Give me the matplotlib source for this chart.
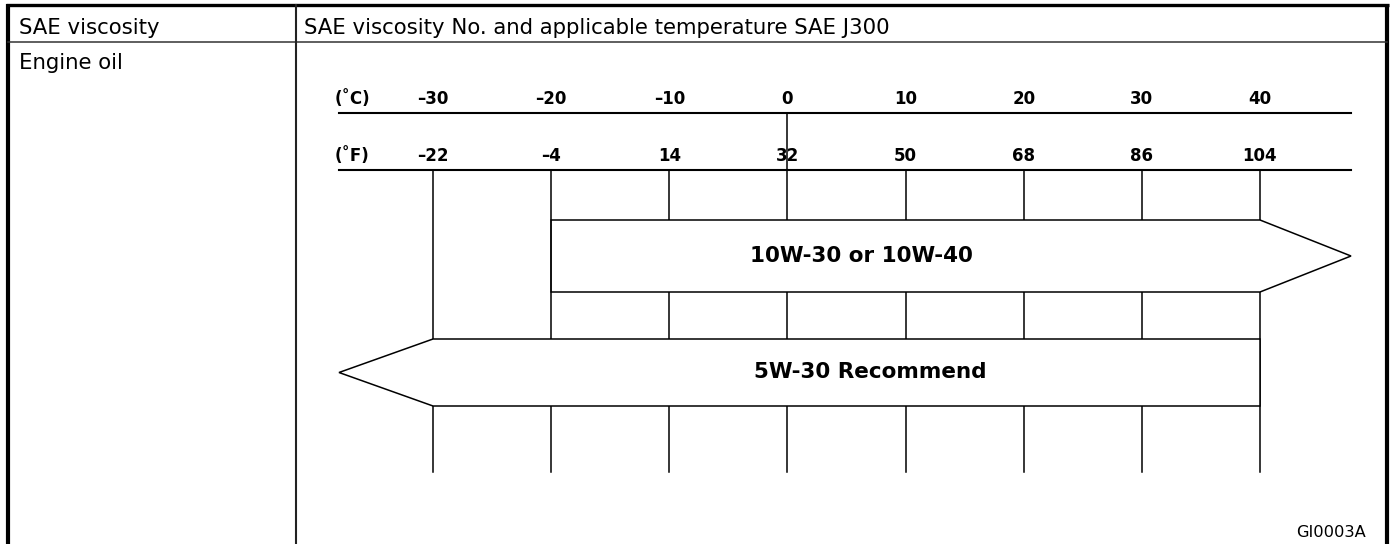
import matplotlib
matplotlib.use("Agg")
import matplotlib.pyplot as plt
from matplotlib.patches import Polygon

plt.rcParams['font.family'] = ['DejaVu Sans']

# table texts
header_left = "SAE viscosity"
header_right = "SAE viscosity No. and applicable temperature SAE J300"
row_label = "Engine oil"
figure_code = "GI0003A"

# temperature scale
celsius = [-30, -20, -10, 0, 10, 20, 30, 40]
fahrenheit = [-22, -4, 14, 32, 50, 68, 86, 104]

# oil grades: label, low degC, high degC, open side of arrow, label x (degC)
grade_labels = ["10W-30 or 10W-40", "5W-30 Recommend"]
grade_low = [-20, -30]
grade_high = [40, 40]
grade_dir = ["right", "left"]
grade_text_x = [6.3, 7.0]


def f_to_c(f):
    return (f - 32) * 5.0 / 9.0


W, H = 1390, 544
fig = plt.figure(figsize=(W / 100, H / 100), dpi=100)

# frame axes in pixel units
frame = fig.add_axes([0, 0, 1, 1])
frame.set_xlim(0, W)
frame.set_ylim(H, 0)
frame.axis('off')

frame.plot([8, 8], [4, H], color='black', lw=3.0, solid_capstyle='butt')
frame.plot([1387, 1387], [4, H], color='black', lw=3.0, solid_capstyle='butt')
frame.plot([6, 1389], [5, 5], color='black', lw=2.4, solid_capstyle='butt')
frame.plot([8, 1387], [42, 42], color='#333333', lw=1.1)
frame.plot([296, 296], [5, H], color='#222222', lw=1.5)

frame.text(19, 34, header_left, fontsize=15.3, va='baseline', ha='left')
frame.text(304, 34, header_right, fontsize=15.3, va='baseline', ha='left')
frame.text(19, 69, row_label, fontsize=15.3, va='baseline', ha='left')
frame.text(1366, 537, figure_code, fontsize=11.7, va='baseline', ha='right')

# chart axes: x in degC, y in pixels
ax = fig.add_axes([0, 0, 1, 1])
ppd = (1260 - 433) / 70.0
x0 = -30 - 433 / ppd
ax.set_xlim(x0, x0 + W / ppd)
ax.set_ylim(H, 0)
ax.axis('off')

axis_start = x0 + 339 / ppd
axis_end = x0 + 1351 / ppd
y_c, y_f = 113, 170
y_tick_end = 472

ax.plot([axis_start, axis_end], [y_c, y_c], color='black', lw=1.5)
ax.plot([axis_start, axis_end], [y_f, y_f], color='black', lw=1.5)
ax.text(axis_start - 0.4, 104, "(˚C)", fontsize=12, fontweight='bold', ha='left', va='baseline')
ax.text(axis_start - 0.4, 161, "(˚F)", fontsize=12, fontweight='bold', ha='left', va='baseline')

for c in celsius:
    ax.text(c, 104, str(c).replace('-', '–'), fontsize=12, fontweight='bold',
            ha='center', va='baseline')
for f in fahrenheit:
    ax.text(f_to_c(f), 161, str(f).replace('-', '–'), fontsize=12, fontweight='bold',
            ha='center', va='baseline', zorder=1)
    ax.plot([f_to_c(f), f_to_c(f)], [y_f, y_tick_end], color='black', lw=1.1, zorder=2)

# 0 degC joins both scales
ax.plot([0, 0], [y_c, y_f], color='black', lw=1.1, zorder=2)

bands = [(220, 292), (339, 406)]
for lab, lo, hi, d, tx, (yt, yb) in zip(grade_labels, grade_low, grade_high,
                                        grade_dir, grade_text_x, bands):
    ym = (yt + yb) / 2
    if d == "right":
        pts = [(lo, yt), (hi, yt), (axis_end, ym), (hi, yb), (lo, yb)]
    else:
        pts = [(hi, yt), (lo, yt), (axis_start, ym), (lo, yb), (hi, yb)]
    ax.add_patch(Polygon(pts, closed=True, facecolor='white', edgecolor='black',
                         lw=1.1, zorder=3, joinstyle='miter'))
    ax.text(tx, ym, lab, fontsize=15.5, fontweight='bold', ha='center',
            va='center', zorder=4)

fig.savefig("out.png", dpi=100)
